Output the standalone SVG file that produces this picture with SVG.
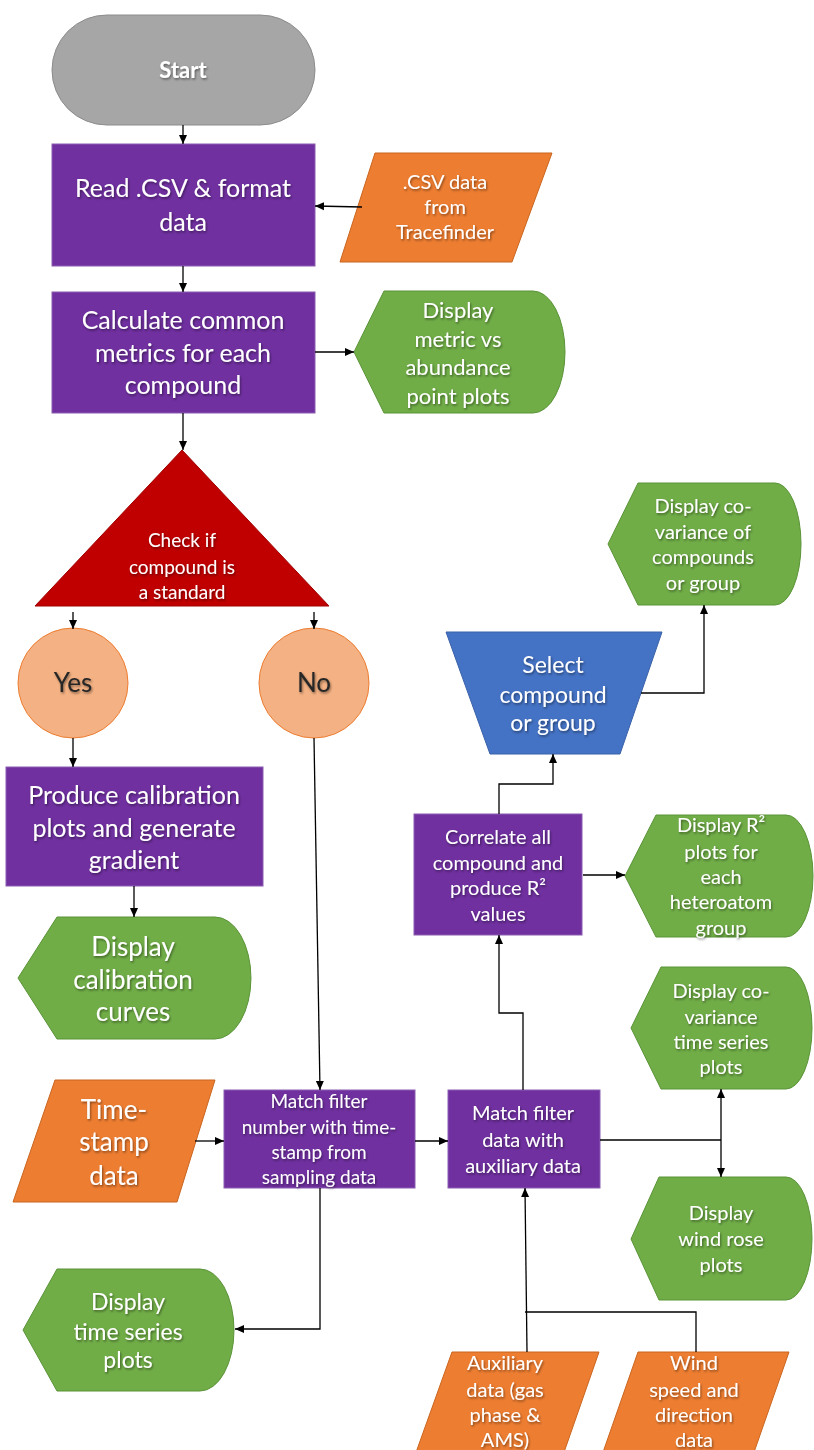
<svg xmlns="http://www.w3.org/2000/svg" width="814" height="1450" viewBox="0 0 814 1450">
<defs>
<marker id="ah" markerWidth="10" markerHeight="10" refX="9" refY="5" orient="auto" markerUnits="userSpaceOnUse">
<path d="M0,1 L9,5 L0,9 Z" fill="#000"/>
</marker>
<filter id="sh" x="-10%" y="-10%" width="120%" height="130%">
<feDropShadow dx="1" dy="1.5" stdDeviation="0.8" flood-color="#000" flood-opacity="0.45"/>
</filter>
</defs>
<style>
text{font-family:Lato,"Liberation Sans",sans-serif;text-anchor:middle;fill:#fff;filter:url(#sh)}
.proc{fill:#7030A0;stroke:#8a5cb0;stroke-width:1}
.data{fill:#ED7D31;stroke:#c9651f;stroke-width:1}
.disp{fill:#70AD47;stroke:#5a9337;stroke-width:1}
.circ{fill:#F4B183;stroke:#ED7D31;stroke-width:1}
.conn{fill:none;stroke:#000;stroke-width:1.3}
.dark{fill:#262626}
</style>
<rect width="814" height="1450" fill="#fff"/>

<g id="start">
<rect x="52" y="15" width="263" height="110" rx="55" ry="55" fill="#A6A6A6" stroke="#8c8c8c"/>
<text x="183" y="78" font-size="22" font-weight="bold">Start</text>
</g>

<g id="read">
<rect class="proc" x="52" y="144" width="263" height="122"/>
<text font-size="25"><tspan x="183" y="197">Read .CSV &amp; format</tspan><tspan x="183" y="231">data</tspan></text>
</g>

<g id="csv">
<polygon class="data" points="375,153 552,153 512,262 340,262"/>
<text font-size="20"><tspan x="445" y="189">.CSV data</tspan><tspan x="445" y="214">from</tspan><tspan x="445" y="239">Tracefinder</tspan></text>
</g>

<g id="calc">
<rect class="proc" x="52" y="292" width="263" height="121"/>
<text font-size="25"><tspan x="183" y="329">Calculate common</tspan><tspan x="183" y="362">metrics for each</tspan><tspan x="183" y="394">compound</tspan></text>
</g>

<g id="dispMetric">
<path class="disp" d="M354,352 L384,291 L533,291 A32,61 0 0 1 533,413 L384,413 Z"/>
<text font-size="22"><tspan x="458" y="318">Display</tspan><tspan x="458" y="347">metric vs</tspan><tspan x="458" y="375">abundance</tspan><tspan x="458" y="404">point plots</tspan></text>
</g>

<g id="check">
<polygon points="182,450 329,606 35,606" fill="#C00000" stroke="#a00000"/>
<text font-size="19"><tspan x="182" y="547">Check if</tspan><tspan x="182" y="574">compound is</tspan><tspan x="182" y="599">a standard</tspan></text>
</g>

<g id="yes">
<ellipse class="circ" cx="73" cy="683" rx="55" ry="55"/>
<text class="dark" x="73" y="692" font-size="26">Yes</text>
</g>

<g id="no">
<ellipse class="circ" cx="314" cy="683" rx="55" ry="55"/>
<text class="dark" x="314" y="692" font-size="26">No</text>
</g>

<g id="produce">
<rect class="proc" x="6" y="767" width="257" height="119"/>
<text font-size="25"><tspan x="134" y="804">Produce calibration</tspan><tspan x="134" y="837">plots and generate</tspan><tspan x="134" y="869">gradient</tspan></text>
</g>

<g id="dispCal">
<path class="disp" d="M18,978 L57,917 L215,917 A36,61 0 0 1 215,1039 L57,1039 Z"/>
<text font-size="26"><tspan x="133" y="956">Display</tspan><tspan x="133" y="989">calibration</tspan><tspan x="133" y="1021">curves</tspan></text>
</g>

<g id="select">
<polygon points="446,632 662,632 620,754 490,754" fill="#4472C4" stroke="#3a62a8"/>
<text font-size="23"><tspan x="553" y="673">Select</tspan><tspan x="553" y="703">compound</tspan><tspan x="553" y="731">or group</tspan></text>
</g>

<g id="dispCovComp">
<path class="disp" d="M608,544 L638,483 L775,483 A26,61 0 0 1 775,605 L638,605 Z"/>
<text font-size="20"><tspan x="703" y="513">Display co-</tspan><tspan x="703" y="539">variance of</tspan><tspan x="703" y="564">compounds</tspan><tspan x="703" y="590">or group</tspan></text>
</g>

<g id="correlate">
<rect class="proc" x="414" y="814" width="168" height="121"/>
<text font-size="20"><tspan x="498" y="844">Correlate all</tspan><tspan x="498" y="870">compound and</tspan><tspan x="498" y="895">produce R²</tspan><tspan x="498" y="921">values</tspan></text>
</g>

<g id="dispR2">
<path class="disp" d="M625,876 L656,815 L786,815 A27,61 0 0 1 786,937 L656,937 Z"/>
<text font-size="20"><tspan x="721" y="832">Display R²</tspan><tspan x="721" y="859">plots for</tspan><tspan x="721" y="884">each</tspan><tspan x="721" y="909">heteroatom</tspan><tspan x="721" y="935">group</tspan></text>
</g>

<g id="dispCovTime">
<path class="disp" d="M631,1028 L661,967 L786,967 A26,61 0 0 1 786,1089 L661,1089 Z"/>
<text font-size="20"><tspan x="721" y="998">Display co-</tspan><tspan x="721" y="1024">variance</tspan><tspan x="721" y="1049">time series</tspan><tspan x="721" y="1074">plots</tspan></text>
</g>

<g id="timestamp">
<polygon class="data" points="55,1080 215,1080 177,1202 13,1202"/>
<text font-size="26"><tspan x="114" y="1119">Time-</tspan><tspan x="114" y="1151">stamp</tspan><tspan x="114" y="1185">data</tspan></text>
</g>

<g id="matchNum">
<rect class="proc" x="224" y="1090" width="191" height="98"/>
<text font-size="19"><tspan x="319" y="1108">Match filter</tspan><tspan x="319" y="1134">number with time-</tspan><tspan x="319" y="1159">stamp from</tspan><tspan x="319" y="1184">sampling data</tspan></text>
</g>

<g id="matchAux">
<rect class="proc" x="448" y="1090" width="152" height="98"/>
<text font-size="20"><tspan x="523" y="1120">Match filter</tspan><tspan x="523" y="1147">data with</tspan><tspan x="523" y="1173">auxiliary data</tspan></text>
</g>

<g id="dispWind">
<path class="disp" d="M631,1239 L659,1177 L786,1177 A26,61.5 0 0 1 786,1300 L659,1300 Z"/>
<text font-size="20"><tspan x="721" y="1220">Display</tspan><tspan x="721" y="1246">wind rose</tspan><tspan x="721" y="1272">plots</tspan></text>
</g>

<g id="dispTime">
<path class="disp" d="M23,1330 L57,1269 L200,1269 A34,61 0 0 1 200,1391 L57,1391 Z"/>
<text font-size="23"><tspan x="128" y="1310">Display</tspan><tspan x="128" y="1340">time series</tspan><tspan x="128" y="1368">plots</tspan></text>
</g>

<g id="aux">
<polygon class="data" points="452,1352 599,1352 562,1458 414,1458"/>
<text font-size="20"><tspan x="505" y="1370">Auxiliary</tspan><tspan x="505" y="1397">data (gas</tspan><tspan x="505" y="1422">phase &amp;</tspan><tspan x="505" y="1447">AMS)</tspan></text>
</g>

<g id="wind">
<polygon class="data" points="638,1352 789,1352 752,1458 601,1458"/>
<text font-size="20"><tspan x="694" y="1370">Wind</tspan><tspan x="694" y="1397">speed and</tspan><tspan x="694" y="1422">direction</tspan><tspan x="694" y="1447">data</tspan></text>
</g>

<g id="connectors" class="conn">
<path class="conn" d="M183,125 V144" marker-end="url(#ah)"/>
<path class="conn" d="M362,207 L315,206" marker-end="url(#ah)"/>
<path class="conn" d="M183,266 V292" marker-end="url(#ah)"/>
<path class="conn" d="M315,352 H354" marker-end="url(#ah)"/>
<path class="conn" d="M183,413 V450" marker-end="url(#ah)"/>
<path class="conn" d="M73,612 V629" marker-end="url(#ah)"/>
<path class="conn" d="M314,612 V629" marker-end="url(#ah)"/>
<path class="conn" d="M73,738 V767" marker-end="url(#ah)"/>
<path class="conn" d="M314,738 L320,1090" marker-end="url(#ah)"/>
<path class="conn" d="M134,886 V917" marker-end="url(#ah)"/>
<path class="conn" d="M195,1141 H224" marker-end="url(#ah)"/>
<path class="conn" d="M415,1141 H448" marker-end="url(#ah)"/>
<path class="conn" d="M523,1090 V1013 H499 V935" marker-end="url(#ah)"/>
<path class="conn" d="M499,814 V784 H553 V754" marker-end="url(#ah)"/>
<path class="conn" d="M641,693 H704 V605" marker-end="url(#ah)"/>
<path class="conn" d="M583,875 H625" marker-end="url(#ah)"/>
<path class="conn" d="M600,1140 H721"/>
<path class="conn" d="M721,1140 V1089" marker-end="url(#ah)"/>
<path class="conn" d="M721,1140 V1177" marker-end="url(#ah)"/>
<path class="conn" d="M320,1188 V1329 H235" marker-end="url(#ah)"/>
<path class="conn" d="M527,1352 L525,1188" marker-end="url(#ah)"/>
<path class="conn" d="M696,1352 V1312 H525"/>
</g>
</svg>
